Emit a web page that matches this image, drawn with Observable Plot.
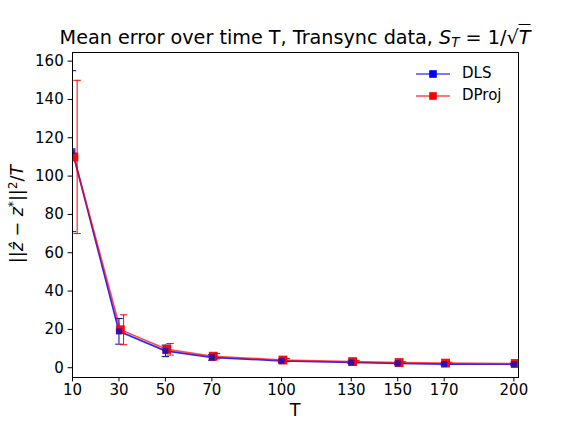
<!DOCTYPE html>
<html><head><meta charset="utf-8">
<script src="https://cdn.jsdelivr.net/npm/d3@7"></script>
<script src="https://cdn.jsdelivr.net/npm/@observablehq/plot@0.6"></script>
<style>
body{margin:0;background:#fff;}
#wrap{position:relative;width:576px;height:432px;font-family:"DejaVu Sans",sans-serif;color:#000;}
#wrap > svg{position:absolute;left:0;top:0;}
.ov{position:absolute;white-space:nowrap;line-height:1;}
#title{font-size:19.2px;left:295px;top:28px;transform:translateX(-50%);}
#ylab{font-size:17.5px;left:18px;top:214px;transform:translate(-50%,-50%) rotate(-90deg);}
#xlab{font-size:17.5px;left:295px;top:402px;transform:translateX(-50%);}
.m{font-style:italic;}
.sq{border-top:1px solid #000;padding-top:1px;font-style:italic;}
sub{font-size:70%;vertical-align:-0.25em;line-height:0;}
sup{font-size:70%;vertical-align:0.55em;line-height:0;}
.leg{position:absolute;left:416px;font-size:15px;line-height:1;display:flex;align-items:center;}
#wrap .leg svg{position:static;margin-right:12px;display:block;}
</style></head><body><div id="wrap"></div>
<script>
const T = [10, 30, 50, 70, 100, 130, 150, 170, 200];
const dlsMean = [113, 19.0, 8.8, 5.4, 3.6, 2.8, 2.3, 1.9, 1.8];
const dlsErr = [42, 6.7, 3.0, 1.5, 0.8, 0.6, 0.5, 0.4, 0.4];
const dprojMean = [110, 19.8, 9.6, 6.0, 4.0, 3.2, 2.7, 2.4, 2.2];
const dprojErr = [40, 7.8, 3.0, 1.4, 0.8, 0.6, 0.5, 0.5, 0.4];
const dprojShift = 0.6;    // DProj markers/line drawn slightly right of T
const dprojErrShift = 2;   // DProj error bars drawn further right
const xTicks = [10, 30, 50, 70, 100, 130, 150, 170, 200];
const yTicks = [0, 20, 40, 60, 80, 100, 120, 140, 160];
const seriesNames = ["DLS", "DProj"];
const seriesColors = ["#0000ff", "#ff0000"];

const dls = T.map((t, i) => ({x: t, ex: t, y: dlsMean[i], lo: dlsMean[i] - dlsErr[i], hi: dlsMean[i] + dlsErr[i]}));
const dproj = T.map((t, i) => ({x: t + dprojShift, ex: t + dprojErrShift, y: dprojMean[i], lo: dprojMean[i] - dprojErr[i], hi: dprojMean[i] + dprojErr[i]}));

const cap = {draw(ctx) { ctx.moveTo(-3.75, 0); ctx.lineTo(3.75, 0); }};
function errMarks(d, c) {
  return [
    Plot.ruleX(d, {x: "ex", y1: "lo", y2: "hi", stroke: c, strokeWidth: 1, clip: true}),
    Plot.dot(d, {x: "ex", y: "hi", symbol: cap, fill: "none", stroke: c, strokeWidth: 1, clip: true}),
    Plot.dot(d, {x: "ex", y: "lo", symbol: cap, fill: "none", stroke: c, strokeWidth: 1, clip: true})
  ];
}

const chart = Plot.plot({
  width: 576, height: 432,
  marginLeft: 72, marginRight: 58, marginTop: 52, marginBottom: 55,
  style: {fontFamily: "DejaVu Sans", fontSize: "15px", color: "#000", background: "transparent", overflow: "visible"},
  x: {type: "linear", domain: [10, 202]},
  y: {type: "linear", domain: [-5.1, 164.5]},
  marks: [
    ...errMarks(dls, "#0000b0"),
    ...errMarks(dproj, seriesColors[1]),
    Plot.line(dls, {x: "x", y: "y", stroke: seriesColors[0], strokeOpacity: 0.85, strokeWidth: 1.7, clip: true}),
    Plot.line(dproj, {x: "x", y: "y", stroke: seriesColors[1], strokeOpacity: 0.7, strokeWidth: 1.7, clip: true}),
    Plot.dot(dproj, {x: "x", y: "y", symbol: "square", r: 5, fill: seriesColors[1], fillOpacity: 0.95, stroke: "none", clip: true}),
    Plot.dot(dls, {x: "x", y: "y", symbol: "square", r: 3.4, fill: "#1010c8", fillOpacity: 0.85, stroke: "none", clip: true}),
    Plot.frame({stroke: "#000", strokeWidth: 1}),
    Plot.axisX({ticks: xTicks, tickFormat: d => String(d), tickSize: 4.4, tickPadding: 2.5, label: null, fontSize: 15}),
    Plot.axisY({ticks: yTicks, tickFormat: d => String(d), tickSize: 4.4, tickPadding: 4.4, label: null, fontSize: 15})
  ]
});
const wrap = document.getElementById("wrap");
wrap.appendChild(chart);

function addDiv(id, html) {
  const el = document.createElement("div");
  el.className = "ov"; el.id = id; el.innerHTML = html;
  wrap.appendChild(el);
}
addDiv("title", 'Mean error over time T, Transync data, <span class="m">S</span><sub class="m">T</sub> = 1/√<span class="sq">T</span>');
addDiv("ylab", '||<span class="m">z\u0302</span> − <span class="m">z</span><sup>*</sup>||<sup>2</sup>/<span class="m">T</span>');
addDiv("xlab", 'T');

seriesNames.forEach((name, k) => {
  const el = document.createElement("div");
  el.className = "leg";
  el.style.top = (66 + k * 22) + "px";
  el.innerHTML = `<svg width="34" height="14"><line x1="0" y1="7" x2="34" y2="7" stroke="${seriesColors[k]}" stroke-opacity="0.7" stroke-width="1.6"/><rect x="13.2" y="3.2" width="7.6" height="7.6" fill="${seriesColors[k]}"/></svg><span>${name}</span>`;
  wrap.appendChild(el);
});
</script></body></html>
